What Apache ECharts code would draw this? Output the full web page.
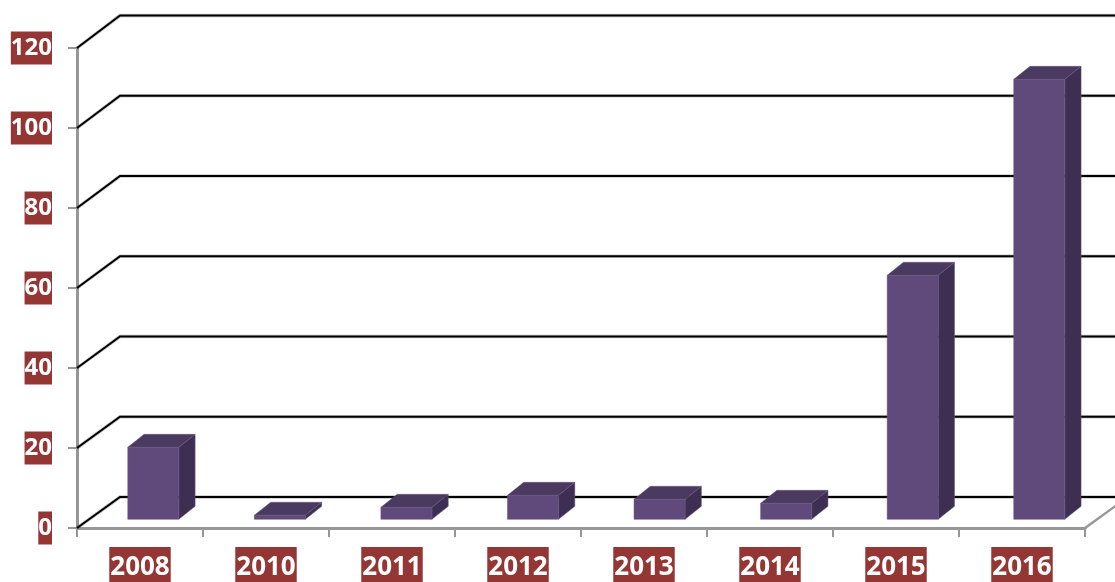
<!DOCTYPE html>
<html>
<head>
<meta charset="utf-8">
<style>html,body{margin:0;padding:0;background:#fff}#c{width:1115px;height:582px}</style>
<script src="https://cdn.jsdelivr.net/npm/echarts@6/dist/echarts.min.js"></script>
</head>
<body>
<div id="c"></div>
<script>
const categories = ['2008','2010','2011','2012','2013','2014','2015','2016'];
const values = [18,1,3,6,5,4,61,110];
const yTicks = [0,20,40,60,80,100,120];

const WALL_DX = 43, WALL_DY = -31, WALL_SCALE = 1.003;
const BAR_DX = 13, BAR_DY = -8.7, BAR_SPREAD = 1.0045;
const TOP_DX = 16.3, TOP_DY = -13;
const FRONT = '#604a7b', TOP = '#4a3a5f', SIDE = '#3e2f52', EDGE = '#655380';
const AXIS = '#969696';

const chart = echarts.init(document.getElementById('c'), null, {renderer:'canvas'});

function wallItem(params, api){
  const cs = params.coordSys;
  const p = api.coord([0, api.value(1)]);
  const floor = cs.y + cs.height;
  const right = cs.x + cs.width;
  const yBack = floor + WALL_DY - (floor - p[1]) * WALL_SCALE;
  const pts = [[cs.x,p[1]],[cs.x+WALL_DX,yBack],[right+WALL_DX,yBack]];
  const kids = [
    {type:'polyline',shape:{points:pts},style:{fill:null,stroke:'rgba(0,0,0,0.22)',lineWidth:3.4}},
    {type:'polyline',shape:{points:pts},style:{fill:null,stroke:'#000',lineWidth:2}}
  ];
  if (api.value(1) === 0) {
    kids.push({
      type:'line',
      shape:{x1:right,y1:floor,x2:right+WALL_DX,y2:floor+WALL_DY},
      style:{stroke:AXIS,lineWidth:2.4}
    });
  }
  return {type:'group',children:kids};
}

function barItem(params, api){
  const cs = params.coordSys;
  const base = api.coord([api.value(0),0]);
  const top = api.coord([api.value(0),api.value(1)]);
  const w = api.size([1,0])[0]*0.405;
  const cx = cs.x + (base[0]-cs.x)*BAR_SPREAD + BAR_DX;
  const x0 = cx-w/2, x1 = x0+w;
  const yb = base[1]+BAR_DY, yt = top[1]+BAR_DY;
  const st = (c)=>({fill:c,stroke:EDGE,lineWidth:0.5});
  return {type:'group',children:[
    {type:'polygon',shape:{points:[[x1,yb],[x1+TOP_DX,yb+TOP_DY],[x1+TOP_DX,yt+TOP_DY],[x1,yt]]},style:st(SIDE)},
    {type:'polygon',shape:{points:[[x0,yt],[x1,yt],[x1+TOP_DX,yt+TOP_DY],[x0+TOP_DX,yt+TOP_DY]]},style:st(TOP)},
    {type:'rect',shape:{x:x0,y:yt,width:w,height:yb-yt},style:st(FRONT)}
  ]};
}

const labelBase = {
  color:'#fff', fontFamily:'"Open Sans"', fontWeight:'bold',
  backgroundColor:'#943634'
};

chart.setOption({
  animation:false,
  backgroundColor:'#fff',
  grid:{left:77,right:30,top:48,bottom:54,containLabel:false},
  xAxis:{
    type:'category',data:categories,boundaryGap:true,
    axisLine:{lineStyle:{color:AXIS,width:3}},
    axisTick:{show:true,length:9,lineStyle:{color:AXIS,width:2}},
    axisLabel:Object.assign({},labelBase,{fontSize:26,margin:19,lineHeight:29,height:29,padding:[6,1,0,1],interval:0}),
    splitLine:{show:false}
  },
  yAxis:{
    type:'value',min:0,max:120,interval:20,
    axisLine:{show:true,lineStyle:{color:AXIS,width:3}},
    axisTick:{show:true,length:9,lineStyle:{color:AXIS,width:2}},
    axisLabel:Object.assign({},labelBase,{fontSize:24,margin:25,lineHeight:30,height:30,padding:[3,0,0,0]}),
    splitLine:{show:false}
  },
  series:[
    {type:'custom',renderItem:wallItem,data:yTicks.map(v=>[0,v]),encode:{x:0,y:1},silent:true,z:3,clip:false},
    {type:'custom',renderItem:barItem,data:values.map((v,i)=>[i,v]),encode:{x:0,y:1},silent:true,z:4,clip:false}
  ]
});
</script>
</body>
</html>
